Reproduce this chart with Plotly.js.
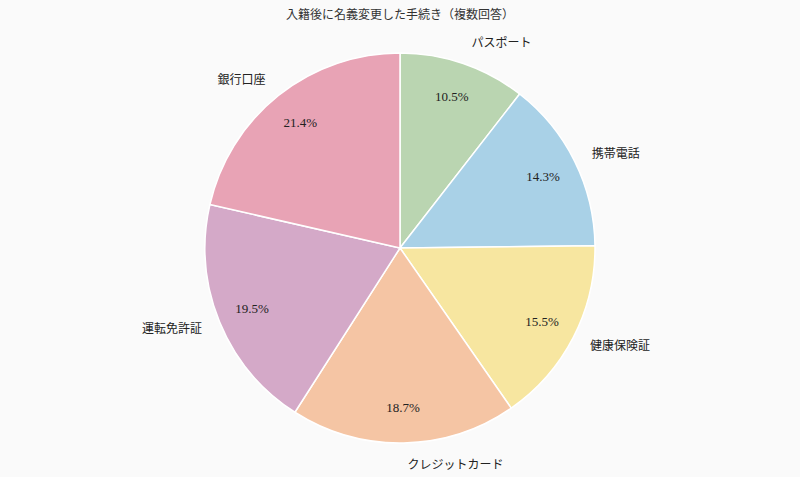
<!DOCTYPE html>
<html><head><meta charset="utf-8">
<script src="https://cdn.plot.ly/plotly-3.0.1.min.js"></script>
<style>html,body{margin:0;padding:0;background:#fafafa;}</style>
</head><body>
<div id="chart" style="width:800px;height:477px;"></div>
<script>
const categories = ["パスポート","携帯電話","健康保険証","クレジットカード","運転免許証","銀行口座"];
const values = [10.5, 14.3, 15.5, 18.7, 19.5, 21.4];
const colors = ["#bad5b1","#a9d1e7","#f7e6a0","#f5c5a4","#d4a9c8","#e8a3b5"];
const titleText = "入籍後に名義変更した手続き（複数回答）";

const FONT = "'Liberation Serif', 'Noto Sans CJK JP', serif";
const clear = categories.map(() => "rgba(0,0,0,0)");
const innerDomain = {x: [0, 1], y: [15/420, 405/420]};

const common = {
  type: "pie",
  labels: categories,
  values: values,
  sort: false,
  direction: "clockwise",
  rotation: 0,
  hoverinfo: "none",
  showlegend: false
};

// filled slices
const slices = Object.assign({}, common, {
  domain: innerDomain,
  marker: {colors: colors, line: {color: "#ffffff", width: 1.5}},
  textinfo: "none"
});

// percentage text placed in an outer ring
const pct = Object.assign({}, common, {
  domain: innerDomain,
  hole: 0.64,
  marker: {colors: clear, line: {width: 0}},
  texttemplate: "%{value:.1f}%",
  textposition: "inside",
  insidetextorientation: "horizontal",
  textfont: {family: FONT, size: 13, color: "#222222"}
});

// category labels outside, slightly further out
const outer = Object.assign({}, common, {
  domain: {x: [0, 1], y: [0, 1]},
  marker: {colors: clear, line: {width: 0}},
  texttemplate: "%{label}",
  textposition: "outside",
  outsidetextfont: {family: FONT, size: 12, color: "#222222"}
});

const layout = {
  width: 800, height: 477,
  paper_bgcolor: "#fafafa",
  plot_bgcolor: "#fafafa",
  margin: {l: 0, r: 0, t: 38, b: 19},
  title: {text: titleText, x: 0.5, xanchor: "center", y: 0.97, yanchor: "middle",
          font: {family: FONT, size: 12, color: "#333333"}},
  showlegend: false
};

Plotly.newPlot("chart", [slices, pct, outer], layout, {displayModeBar: false, staticPlot: true});
</script>
</body></html>
